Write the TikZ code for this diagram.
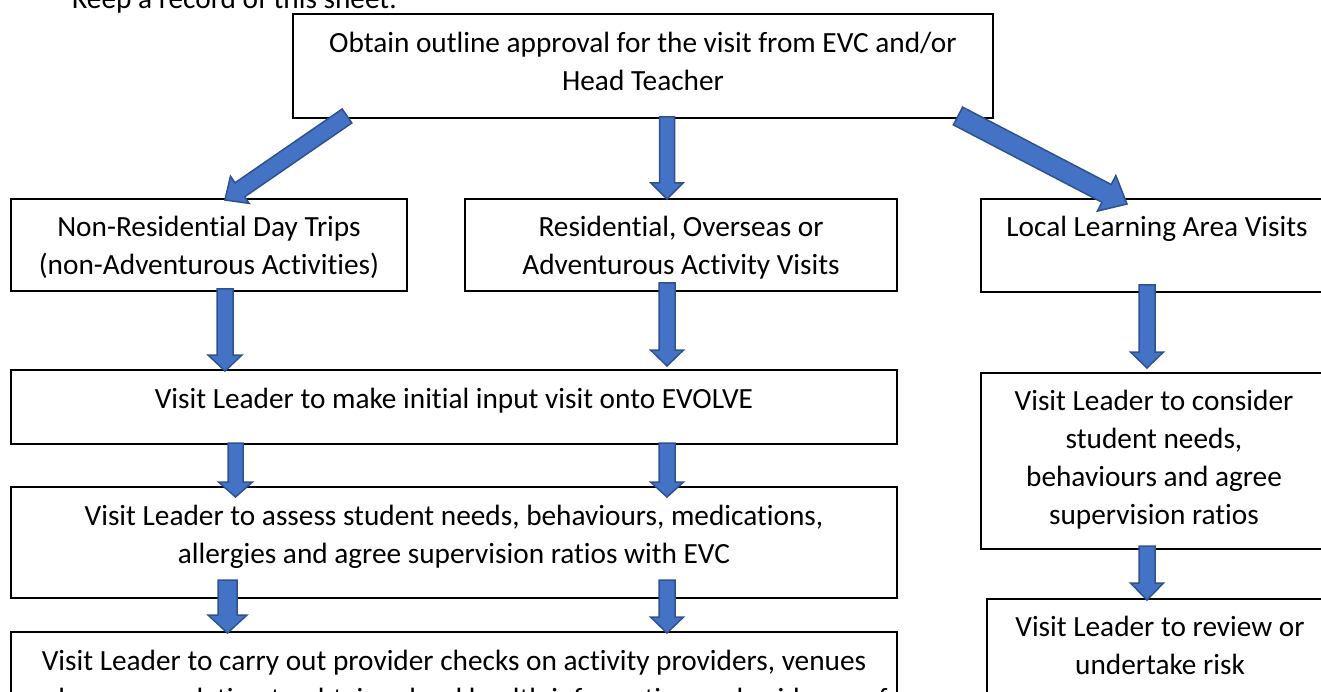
\documentclass[tikz,border=0pt]{standalone}
\usepackage{fontspec}
\setmainfont{Carlito}[Ligatures=NoCommon]
\usetikzlibrary{calc}
\definecolor{arrfill}{HTML}{4472C4}
\definecolor{arrline}{HTML}{2F528F}
\tikzset{
  box/.style={draw=black, line width=1.3pt, fill=white, rectangle, inner sep=0pt},
  txt/.style={font=\fontsize{29.3}{38}\selectfont, align=center, anchor=base, inner sep=0pt},
  blockarrow/.style={fill=arrfill, draw=arrline, line width=1.5pt, line join=miter},
}
% #1 start coordinate, #2 tip coordinate, #3 shaft half width, #4 head half width, #5 head length
\newcommand\barrow[5]{%
  \coordinate (ba-c) at ($(#2)!#5pt!(#1)$);
  \draw[blockarrow] ($(#1)!#3pt!90:(#2)$) -- ($(ba-c)!#3pt!90:(#2)$) -- ($(ba-c)!#4pt!90:(#2)$) -- (#2)
    -- ($(ba-c)!#4pt!-90:(#2)$) -- ($(ba-c)!#3pt!-90:(#2)$) -- ($(#1)!#3pt!-90:(#2)$) -- cycle;
}
\begin{document}
\begin{tikzpicture}[x=1pt, y=-1pt]
\fill[white] (0,0) rectangle (1321,692);
\useasboundingbox (0,0) rectangle (1321,692);

% heading (cut at top)
\node[txt, anchor=base west] (keep) at (72,9) {Keep a record of this sheet.};

% boxes
\node[box, minimum width=700pt, minimum height=104pt] (top) at (643,66) {};
\node[box, minimum width=396pt, minimum height=92pt] (nonres) at (209,245) {};
\node[box, minimum width=432pt, minimum height=92pt] (res) at (681,245) {};
\node[box, minimum width=352pt, minimum height=93pt] (local) at (1157,245.5) {};
\node[box, minimum width=886pt, minimum height=74pt] (evolve) at (454,407) {};
\node[box, minimum width=352pt, minimum height=176pt] (consider) at (1157,461) {};
\node[box, minimum width=886pt, minimum height=111pt] (assess) at (454,542.5) {};
\node[box, minimum width=346pt, minimum height=130pt] (review) at (1160,664) {};
\node[box, minimum width=886pt, minimum height=130pt] (provider) at (454,697) {};

% texts (base anchor = baseline of the last line)
\node[txt] (top-t) at (643,91) {Obtain outline approval for the visit from EVC and/or\\Head Teacher};
\node[txt] (nonres-t) at (209,275) {Non-Residential Day Trips\\(non-Adventurous Activities)};
\node[txt] (res-t) at (681,275) {Residential, Overseas or\\Adventurous Activity Visits};
\node[txt] (local-t) at (1157,237) {Local Learning Area Visits};
\node[txt] (evolve-t) at (454,408) {Visit Leader to make initial input visit onto EVOLVE};
\node[txt] (consider-t) at (1154,524) {Visit Leader to consider\\student needs,\\behaviours and agree\\supervision ratios};
\node[txt] (assess-t) at (454,563) {Visit Leader to assess student needs, behaviours, medications,\\allergies and agree supervision ratios with EVC};
\node[txt] (review-t) at (1160,674) {Visit Leader to review or\\undertake risk};
\node[txt] (provider-t) at (454,708) {Visit Leader to carry out provider checks on activity providers, venues\\and accommodation to obtain school health information and evidence of};

% arrow end points
\coordinate (s1) at (347,116);  \coordinate (e1) at (225,200);
\coordinate (s2) at (667,117);  \coordinate (e2) at (667,199);
\coordinate (s3) at (958,116);  \coordinate (e3) at (1127,204);
\coordinate (s4) at (225,289);  \coordinate (e4) at (225,371);
\coordinate (s5) at (667,283);  \coordinate (e5) at (667,366);
\coordinate (s6) at (235.5,443); \coordinate (e6) at (235.5,497);
\coordinate (s7) at (667,443);  \coordinate (e7) at (667,497);
\coordinate (s8) at (227.5,580); \coordinate (e8) at (227.5,633);
\coordinate (s9) at (667,580);  \coordinate (e9) at (667,633);
\coordinate (s10) at (1147,285); \coordinate (e10) at (1147,368);
\coordinate (s11) at (1147,546); \coordinate (e11) at (1147,600);

\barrow{s1}{e1}{8.5}{16.5}{18}
\barrow{s2}{e2}{7.5}{16}{16}
\barrow{s3}{e3}{10}{20}{23}
\barrow{s4}{e4}{8}{17}{16}
\barrow{s5}{e5}{8}{16.5}{16}
\barrow{s6}{e6}{7.5}{17}{15}
\barrow{s7}{e7}{8}{16.5}{15}
\barrow{s8}{e8}{9.5}{19.5}{18}
\barrow{s9}{e9}{8}{16.5}{16}
\barrow{s10}{e10}{8}{16.5}{16}
\barrow{s11}{e11}{8}{16.5}{17}
\end{tikzpicture}
\end{document}
